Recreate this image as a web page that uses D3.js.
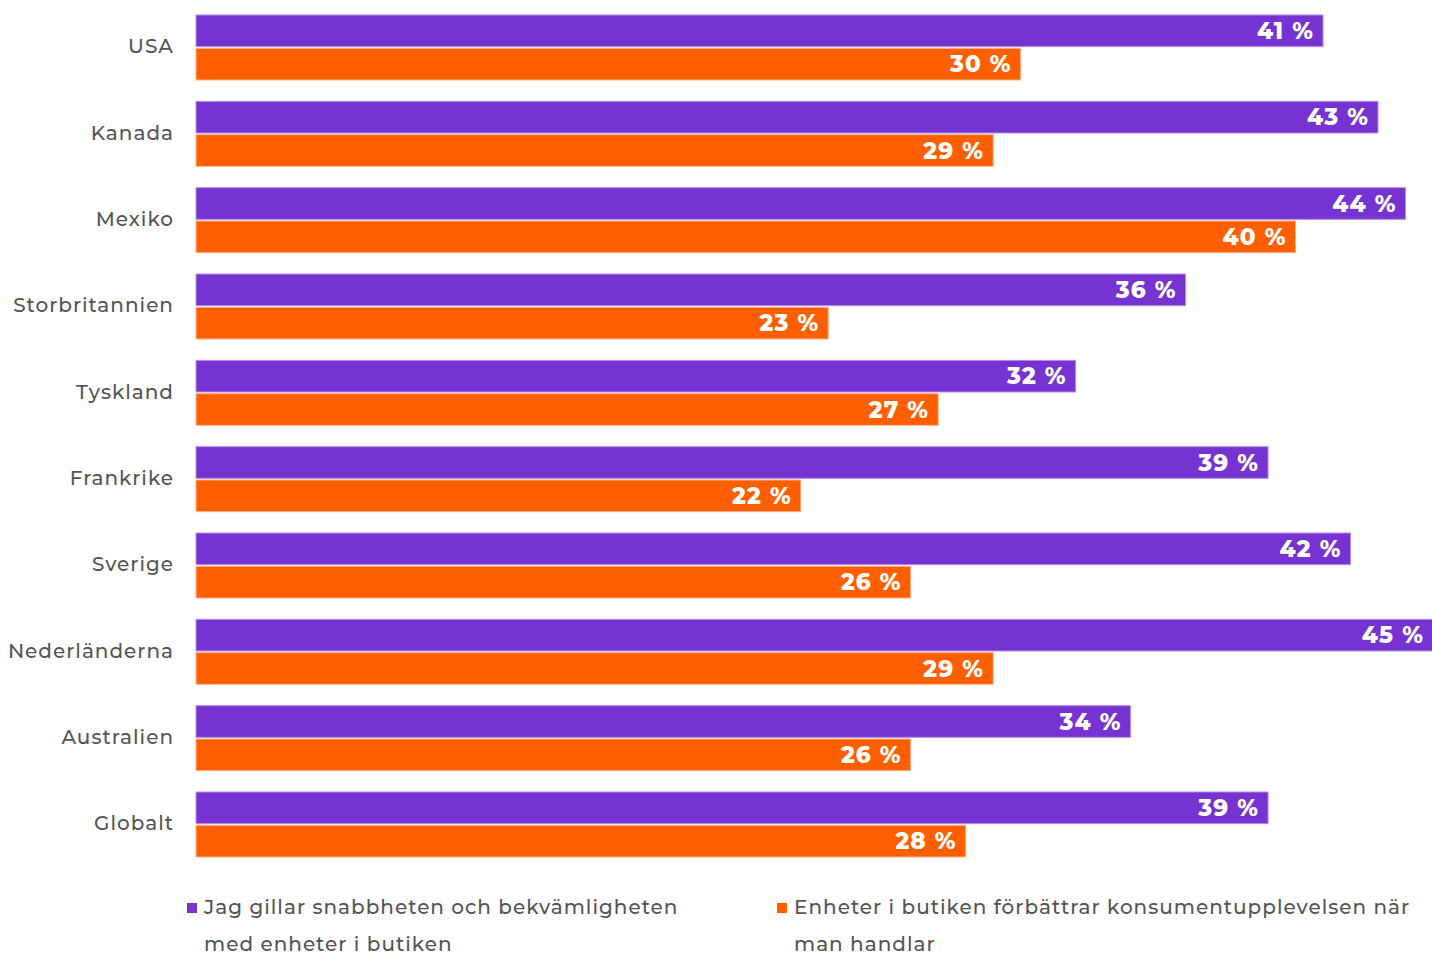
<!DOCTYPE html>
<html>
<head>
<meta charset="utf-8">
<script src="https://cdn.jsdelivr.net/npm/d3@7"></script>
<style>
  html, body { margin: 0; padding: 0; background: #fff; }
  svg { display: block; }
</style>
</head>
<body>
<svg id="chart" width="1432" height="955"></svg>
<script>
const categories = ["USA", "Kanada", "Mexiko", "Storbritannien", "Tyskland", "Frankrike", "Sverige", "Nederländerna", "Australien", "Globalt"];
const seriesNames = ["Jag gillar snabbheten och bekvämligheten med enheter i butiken", "Enheter i butiken förbättrar konsumentupplevelsen när man handlar"];
const seriesA = [41, 43, 44, 36, 32, 39, 42, 45, 34, 39];
const seriesB = [30, 29, 40, 23, 27, 22, 26, 29, 26, 28];
const colors = ["#7633D1", "#FF5F00"];

const svg = d3.select("#chart");
const font = "'Montserrat', 'Noto Sans', 'Open Sans', sans-serif";

const x = d3.scaleLinear().domain([0, 45]).range([196, 1433]);
const y = d3.scaleBand().domain(categories).range([15, 857]).paddingInner(0.247).paddingOuter(0);
const sub = d3.scaleBand().domain([0, 1]).range([0, y.bandwidth()]).paddingInner(0.05);

const g = svg.append("g");
const rows = g.selectAll("g.row").data(categories).join("g")
  .attr("class", "row")
  .attr("transform", d => `translate(0,${y(d)})`);

[seriesA, seriesB].forEach((vals, si) => {
  rows.append("rect")
    .attr("x", x(0))
    .attr("y", sub(si))
    .attr("width", (d, i) => x(vals[i]) - x(0))
    .attr("height", sub.bandwidth())
    .attr("fill", colors[si])
    .attr("stroke", si === 0 ? "#b68fe6" : "#ffb38a")
    .attr("stroke-width", 1);
  rows.append("text")
    .attr("x", (d, i) => x(vals[i]) - 9)
    .attr("y", sub(si) + sub.bandwidth() / 2)
    .attr("dy", "0.36em")
    .attr("text-anchor", "end")
    .attr("fill", "#fff")
    .attr("font-family", font)
    .attr("font-weight", "800")
    .attr("font-size", 23)
    .attr("letter-spacing", 1.2)
    .text((d, i) => vals[i] + " %");
});

rows.append("text")
  .attr("x", 174)
  .attr("y", y.bandwidth() / 2 - 1.5)
  .attr("dy", "0.36em")
  .attr("text-anchor", "end")
  .attr("fill", "#555")
  .attr("font-family", font)
  .attr("font-weight", "500")
  .attr("font-size", 20)
  .attr("letter-spacing", 1)
  .text(d => d);

// Legend
const legendLines = [["Jag gillar snabbheten och bekvämligheten", "med enheter i butiken"],
                     ["Enheter i butiken förbättrar konsumentupplevelsen när", "man handlar"]];
const legendX = [187, 777];
legendLines.forEach((lines, i) => {
  const lg = svg.append("g").attr("transform", `translate(${legendX[i]},0)`);
  lg.append("rect").attr("x", 0).attr("y", 903).attr("width", 10).attr("height", 10).attr("fill", colors[i]);
  lines.forEach((t, j) => {
    lg.append("text")
      .attr("x", 17)
      .attr("y", 914 + j * 37)
      .attr("fill", "#555")
      .attr("font-family", font)
      .attr("font-weight", "500")
      .attr("font-size", 20)
      .attr("letter-spacing", 1)
      .text(t);
  });
});
</script>
</body>
</html>
